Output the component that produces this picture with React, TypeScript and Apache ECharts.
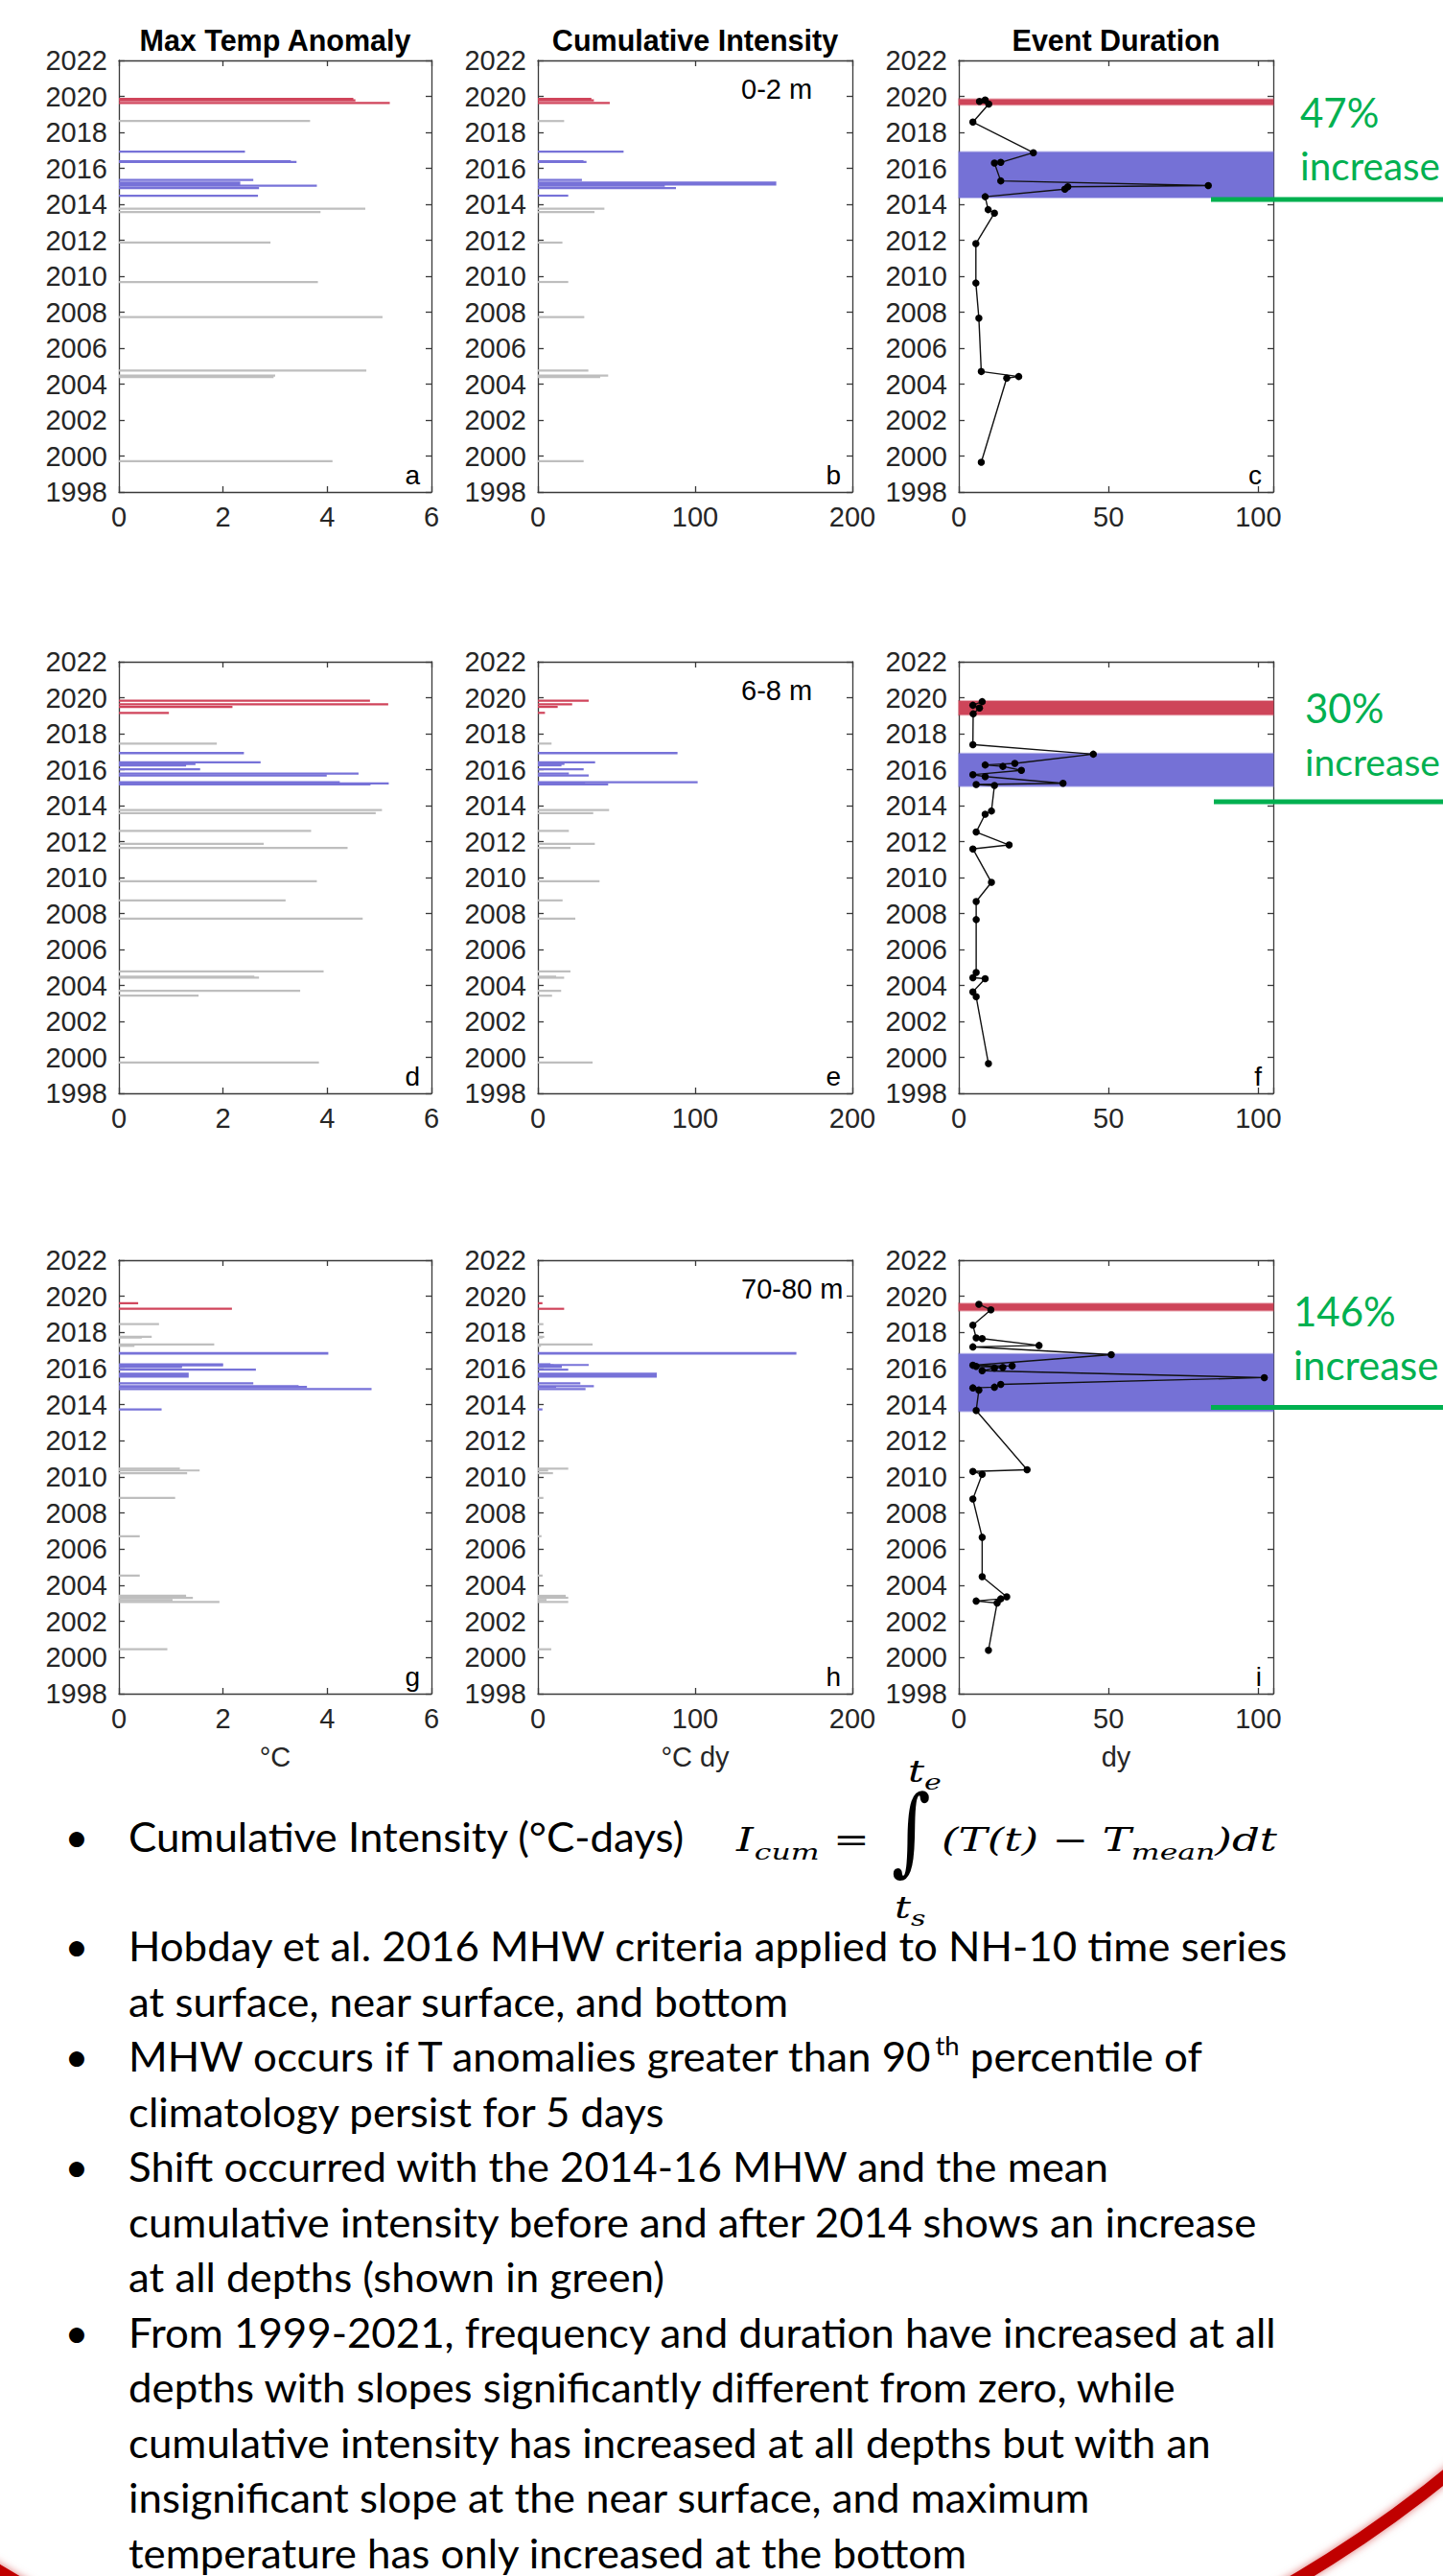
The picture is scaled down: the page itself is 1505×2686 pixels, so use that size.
import React, { useEffect, useRef } from 'react';
import * as echarts from 'echarts';

// ---------------- data ----------------
const YEAR_MIN = 1998;
const YEAR_MAX = 2022;
const YEAR_STEP = 2;

const panelTitles = ['Max Temp Anomaly', 'Cumulative Intensity', 'Event Duration'];
const depthLabels = ['0-2 m', '6-8 m', '70-80 m'];
const panelLetters = ['a', 'b', 'c', 'd', 'e', 'f', 'g', 'h', 'i'];
const axisNames = ['°C', '°C dy', 'dy'];
const xMaxes = [6, 200, 105];
const xSteps = [2, 100, 50];
const increaseLabels = ['47%', '30%', '146%'];

// 0-2 m : event start (decimal year), duration (days), max temp anomaly (°C), cumulative intensity (°C dy), group
const surfStart = [1999.65, 2004.33, 2004.42, 2004.70, 2007.67, 2009.62, 2011.81, 2013.51, 2013.70, 2014.42, 2014.84, 2014.97, 2015.04, 2015.30, 2016.29, 2016.33, 2016.87, 2018.57, 2019.57, 2019.72, 2019.80];
const surfDur = [7.5, 16.0, 20.0, 7.5, 6.7, 5.7, 5.7, 11.9, 9.8, 8.8, 35.4, 36.4, 83.3, 14.0, 11.9, 14.0, 24.9, 4.7, 10.0, 6.9, 8.8];
const surfMaxT = [4.10, 2.97, 3.00, 4.75, 5.06, 3.82, 2.91, 3.87, 4.73, 2.67, 2.69, 3.80, 2.33, 2.58, 3.41, 3.30, 2.42, 3.67, 5.20, 4.54, 4.50];
const surfCumI = [29.1, 39.6, 44.7, 32.1, 29.5, 19.3, 15.6, 36.0, 42.3, 19.3, 87.8, 80.7, 151.6, 28.0, 30.9, 29.0, 54.5, 16.7, 45.7, 35.6, 34.0];
const surfGroup = ['n', 'n', 'n', 'n', 'n', 'n', 'n', 'n', 'n', 'b', 'b', 'b', 'b', 'b', 'b', 'b', 'b', 'n', 'r', 'r', 'r'];

// 6-8 m
const nearStart = [1999.65, 2003.37, 2003.64, 2004.37, 2004.43, 2004.72, 2007.66, 2008.67, 2009.73, 2011.59, 2011.81, 2012.53, 2013.52, 2013.70, 2015.12, 2015.17, 2015.24, 2015.61, 2015.72, 2015.96, 2016.18, 2016.26, 2016.35, 2016.86, 2017.39, 2019.10, 2019.43, 2019.58, 2019.78];
const nearDur = [9.9, 5.8, 4.7, 8.8, 4.7, 5.8, 5.8, 5.8, 10.9, 4.7, 16.8, 5.8, 8.8, 10.9, 11.9, 5.8, 34.8, 8.8, 4.7, 20.9, 14.7, 8.8, 18.7, 44.9, 4.7, 4.8, 6.9, 4.7, 7.8];
const nearMaxT = [3.84, 1.53, 3.48, 2.69, 2.60, 3.93, 4.68, 3.20, 3.80, 4.39, 2.78, 3.69, 4.93, 5.05, 4.83, 5.18, 4.24, 3.99, 4.60, 1.56, 1.29, 1.47, 2.72, 2.40, 1.88, 0.96, 2.18, 5.17, 4.82];
const nearCumI = [34.8, 9.0, 14.8, 16.7, 11.6, 20.7, 23.8, 15.7, 39.2, 20.7, 36.2, 19.7, 35.2, 45.3, 44.7, 30.0, 101.6, 32.3, 19.7, 29.1, 15.0, 16.9, 36.4, 88.8, 8.7, 4.5, 12.6, 21.8, 32.3];
const nearGroup = ['n', 'n', 'n', 'n', 'n', 'n', 'n', 'n', 'n', 'n', 'n', 'n', 'n', 'n', 'b', 'b', 'b', 'b', 'b', 'b', 'b', 'b', 'b', 'b', 'n', 'r', 'r', 'r', 'r'];

// 70-80 m
const botStart = [2000.40, 2003.02, 2003.13, 2003.25, 2003.36, 2004.48, 2006.66, 2008.78, 2010.15, 2010.30, 2010.40, 2013.68, 2014.81, 2014.93, 2014.97, 2015.12, 2015.50, 2015.88, 2016.03, 2016.07, 2016.12, 2016.14, 2016.18, 2016.77, 2017.20, 2017.28, 2017.66, 2017.70, 2018.40, 2019.25, 2019.56];
const botDur = [9.9, 12.8, 5.8, 14.0, 16.0, 7.8, 7.8, 4.7, 7.8, 4.7, 22.8, 5.8, 6.7, 4.7, 11.9, 14.0, 102.0, 7.8, 11.9, 14.7, 5.8, 17.8, 4.7, 50.9, 4.7, 26.8, 7.8, 5.8, 4.7, 10.7, 6.7];
const botMaxT = [0.93, 1.93, 1.03, 1.42, 1.29, 0.40, 0.40, 1.08, 1.31, 1.55, 1.17, 0.82, 4.85, 3.61, 3.45, 2.58, 1.34, 2.63, 1.21, 1.21, 2.00, 1.21, 2.00, 4.02, 0.30, 1.83, 0.44, 0.63, 0.77, 2.17, 0.37];
const botCumI = [8.5, 19.3, 5.5, 19.3, 17.7, 3.0, 2.3, 3.5, 9.6, 6.5, 19.3, 2.9, 30.3, 11.6, 35.6, 27.0, 75.6, 19.3, 15.2, 15.2, 10.0, 32.3, 8.0, 164.4, 2.0, 34.8, 3.0, 4.0, 3.5, 16.7, 2.9];
const botGroup = ['n', 'n', 'n', 'n', 'n', 'n', 'n', 'n', 'n', 'n', 'n', 'b', 'b', 'b', 'b', 'b', 'b', 'b', 'b', 'b', 'b', 'b', 'b', 'b', 'n', 'n', 'n', 'n', 'n', 'r', 'r'];

const bulletLines = [
  { text: 'Cumulative Intensity (°C-days)', bullet: true },
  { text: 'Hobday et al. 2016 MHW criteria applied to NH-10 time series', bullet: true },
  { text: 'at surface, near surface, and bottom', bullet: false },
  { text: 'MHW occurs if T anomalies greater than 90', sup: 'th', rest: ' percentile of', bullet: true },
  { text: 'climatology persist for 5 days', bullet: false },
  { text: 'Shift occurred with the 2014-16 MHW and the mean', bullet: true },
  { text: 'cumulative intensity before and after 2014 shows an increase', bullet: false },
  { text: 'at all depths (shown in green)', bullet: false },
  { text: 'From 1999-2021, frequency and duration have increased at all', bullet: true },
  { text: 'depths with slopes significantly different from zero, while', bullet: false },
  { text: 'cumulative intensity has increased at all depths but with an', bullet: false },
  { text: 'insignificant slope at the near surface, and maximum', bullet: false },
  { text: 'temperature has only increased at the bottom', bullet: false },
];

// ---------------- layout / style ----------------
const FONT_AX = '"Liberation Sans", Arial, Helvetica, sans-serif';
const FONT_TXT = 'Lato, "Open Sans", sans-serif';
const FONT_MATH = '"DejaVu Serif", "Liberation Serif", serif';
const MATH_CSS = '"DejaVu Serif"';

const COLS = [
  { left: 124, width: 326 },
  { left: 561, width: 328 },
  { left: 1000, width: 328 },
];
const ROWS = [
  { top: 63, height: 450 },
  { top: 690, height: 450 },
  { top: 1314, height: 452 },
];
const GREEN_LAYOUT = [
  { x: 1356, pctBase: 132.6, incBase: 187.7, lineY: 208, lineX: 1263 },
  { x: 1361, pctBase: 753.6, incBase: 808.7, lineY: 836, lineX: 1266 },
  { x: 1349, pctBase: 1382.5, incBase: 1437.9, lineY: 1467.5, lineX: 1263 },
];
const BULLET_BASELINES = [1930, 2044, 2101.5, 2159, 2216.5, 2274, 2331.5, 2389, 2446.5, 2504, 2561.5, 2619, 2676.5];

const GROUP_CODE: any = { n: 0, b: 1, r: 2 };
const BAR_COLORS = ['#BEBEBE', '#7772D8', '#D0445B'];
const BAND_COLORS: any = { b: '#7571D6', r: '#CE4559' };
const BAND_EDGE: any = { b: 'rgba(117,113,214,0.45)', r: 'rgba(206,69,89,0.45)' };
const AX_COLOR = '#3a3a3a';
const TXT_COLOR = '#262626';
const GREEN = '#00B050';
const AX_FS = 29;

const depths = [
  { start: surfStart, dur: surfDur, maxT: surfMaxT, cumI: surfCumI, group: surfGroup },
  { start: nearStart, dur: nearDur, maxT: nearMaxT, cumI: nearCumI, group: nearGroup },
  { start: botStart, dur: botDur, maxT: botMaxT, cumI: botCumI, group: botGroup },
];

let measureCtx: any = null;
function textWidth(text: string, font: string) {
  if (!measureCtx) measureCtx = document.createElement('canvas').getContext('2d');
  measureCtx.font = font;
  return measureCtx.measureText(text).width;
}

function txt(text: string, x: number, y: number, o: any = {}) {
  return {
    type: 'text',
    x,
    y,
    scaleX: o.scaleX ?? 1,
    z: 50,
    silent: true,
    style: {
      text,
      fontSize: o.size ?? AX_FS,
      fontFamily: o.family ?? FONT_AX,
      fontWeight: o.weight ?? 'normal',
      fontStyle: o.fstyle ?? 'normal',
      fill: o.color ?? '#000',
      align: o.align ?? 'left',
      verticalAlign: 'middle',
    },
  };
}

function bandOf(starts: number[], groups: string[], g: string) {
  const ys = starts.filter((_, i) => groups[i] === g);
  if (!ys.length) return null;
  return [Math.min(...ys) - 0.04, Math.max(...ys) + 0.04];
}

const renderBar = (params: any, api: any) => {
  const start = api.value(0);
  const dur = api.value(1);
  const val = api.value(2);
  const code = api.value(3);
  const p0 = api.coord([0, start]);
  const p1 = api.coord([val, start + dur / 365]);
  const h = Math.max(2.2, p0[1] - p1[1]);
  return {
    type: 'rect',
    shape: { x: p0[0], y: p0[1] - h, width: p1[0] - p0[0], height: h },
    style: { fill: BAR_COLORS[code] },
  };
};

function buildOption() {
  const grid: any[] = [];
  const xAxis: any[] = [];
  const yAxis: any[] = [];
  const series: any[] = [];
  const graphic: any[] = [];
  const axLine = { color: AX_COLOR, width: 1.3 };

  for (let r = 0; r < 3; r++) {
    const d = depths[r];
    for (let c = 0; c < 3; c++) {
      const gi = r * 3 + c;
      grid.push({ left: COLS[c].left, top: ROWS[r].top, width: COLS[c].width, height: ROWS[r].height, show: false });
      ['bottom', 'top'].forEach((pos) => {
        xAxis.push({
          type: 'value',
          gridIndex: gi,
          position: pos,
          min: 0,
          max: xMaxes[c],
          interval: xSteps[c],
          axisLine: { show: true, onZero: false, lineStyle: axLine },
          axisTick: { show: true, inside: true, length: 6, lineStyle: axLine },
          axisLabel:
            pos === 'bottom'
              ? {
                  show: true,
                  fontSize: AX_FS,
                  fontFamily: FONT_AX,
                  color: TXT_COLOR,
                  margin: 11,
                  formatter: (v: number) => (v % xSteps[c] === 0 ? String(v) : ''),
                }
              : { show: false },
          splitLine: { show: false },
          name: pos === 'bottom' && r === 2 ? axisNames[c] : '',
          nameLocation: 'middle',
          nameGap: 51,
          nameTextStyle: { fontSize: AX_FS, fontFamily: FONT_AX, color: TXT_COLOR },
        });
      });
      ['left', 'right'].forEach((pos) => {
        yAxis.push({
          type: 'value',
          gridIndex: gi,
          position: pos,
          min: YEAR_MIN,
          max: YEAR_MAX,
          interval: YEAR_STEP,
          axisLine: { show: true, onZero: false, lineStyle: axLine },
          axisTick: { show: true, inside: true, length: 6, lineStyle: axLine },
          axisLabel:
            pos === 'left'
              ? { show: true, fontSize: AX_FS, fontFamily: FONT_AX, color: TXT_COLOR, margin: 12, formatter: (v: number) => String(v) }
              : { show: false },
          splitLine: { show: false },
        });
      });

      if (c < 2) {
        const vals = c === 0 ? d.maxT : d.cumI;
        const items = d.start.map((s, i) => [s, d.dur[i], vals[i], GROUP_CODE[d.group[i]]]);
        items.sort((a, b) => b[1] - a[1]);
        series.push({
          type: 'custom',
          xAxisIndex: gi * 2,
          yAxisIndex: gi * 2,
          data: items,
          encode: { x: 2, y: 0 },
          renderItem: renderBar,
          silent: true,
          clip: true,
        });
      } else {
        const pts = d.start.map((s, i) => [d.dur[i], s]).sort((a, b) => a[1] - b[1]);
        const bands: any[] = [];
        ['b', 'r'].forEach((g) => {
          const bd = bandOf(d.start, d.group, g);
          if (bd)
            bands.push([
              { yAxis: bd[0], itemStyle: { color: BAND_COLORS[g], borderColor: BAND_EDGE[g], borderWidth: 2 } },
              { yAxis: bd[1] },
            ]);
        });
        series.push({
          type: 'line',
          xAxisIndex: gi * 2,
          yAxisIndex: gi * 2,
          data: pts,
          symbol: 'circle',
          symbolSize: 7.5,
          showSymbol: true,
          itemStyle: { color: '#000' },
          lineStyle: { color: '#111', width: 1.4 },
          silent: true,
          z: 3,
          markArea: { silent: true, label: { show: false }, data: bands },
        });
      }

      // panel letter
      graphic.push(
        txt(panelLetters[gi], COLS[c].left + COLS[c].width - 12, ROWS[r].top + ROWS[r].height - 18, {
          size: 28,
          align: 'right',
          color: '#000',
        })
      );
    }
    // depth label
    graphic.push(txt(depthLabels[r], 773, ROWS[r].top + 30, { size: AX_FS, color: '#000' }));

    // green annotation
    const gl = GREEN_LAYOUT[r];
    graphic.push(txt(increaseLabels[r], gl.x, gl.pctBase - 0.36 * 42, { size: 42, family: FONT_TXT, color: GREEN }));
    const wInc = textWidth('increase', '42px Lato');
    const incSize = wInc > 0 ? Math.min(42, (42 * (1502 - gl.x)) / wInc) : 41;
    graphic.push(txt('increase', gl.x, gl.incBase - 0.36 * 42, { size: incSize, family: FONT_TXT, color: GREEN }));
    graphic.push({
      type: 'line',
      z: 40,
      silent: true,
      shape: { x1: gl.lineX, y1: gl.lineY, x2: 1510, y2: gl.lineY },
      style: { stroke: GREEN, lineWidth: 5 },
    });
  }

  // titles
  for (let c = 0; c < 3; c++) {
    graphic.push(
      txt(panelTitles[c], COLS[c].left + COLS[c].width / 2, 42, { size: 30.5, weight: 'bold', align: 'center', color: '#000' })
    );
  }

  // bullet text
  const BS = 43;
  const bodyFont = `${BS}px Lato`;
  const refW = textWidth(bulletLines[1].text, bodyFont);
  const sx = refW > 0 ? Math.min(1.15, Math.max(0.8, 1210 / refW)) : 1;
  bulletLines.forEach((ln: any, i) => {
    const base = BULLET_BASELINES[i];
    const y = base - 0.36 * BS;
    if (ln.bullet) graphic.push(txt('•', 80, y, { size: BS, family: FONT_TXT, align: 'center' }));
    graphic.push(txt(ln.text, 134, y, { size: BS, family: FONT_TXT, scaleX: sx }));
    if (ln.sup) {
      const x2 = 134 + textWidth(ln.text, bodyFont) * sx;
      graphic.push(txt(ln.sup, x2, base - 17 - 0.36 * 27, { size: 27, family: FONT_TXT, scaleX: sx }));
      const x3 = x2 + textWidth(ln.sup, `27px Lato`) * sx;
      graphic.push(txt(ln.rest, x3, y, { size: BS, family: FONT_TXT, scaleX: sx }));
    }
  });

  // formula
  const FM = 33;
  const FS = 23;
  const mainBase = 1930;
  const subBase = 1939;
  const fMain = `italic ${FM}px ${MATH_CSS}`;
  const fSub = `italic ${FS}px ${MATH_CSS}`;
  const p1 = '(T(t) − T';
  const p3 = ')dt';
  const natB = textWidth(p1, fMain) + textWidth('mean', fSub) + textWidth(p3, fMain);
  const fsx = natB > 0 ? Math.min(1.6, Math.max(0.8, 350 / natB)) : 1.2;
  const mY = mainBase - 0.35 * FM;
  const sY = subBase - 0.35 * FS;
  const mo = { size: FM, family: FONT_MATH, fstyle: 'italic', scaleX: fsx };
  const so = { size: FS, family: FONT_MATH, fstyle: 'italic', scaleX: fsx };
  graphic.push(txt('I', 768, mY, mo));
  graphic.push(txt('cum', 768 + textWidth('I', fMain) * fsx + 1, sY, so));
  graphic.push(txt('=', 869, mY, { size: FM, family: FONT_MATH, scaleX: fsx }));
  graphic.push(txt('∫', 930, 1908, { size: 100, family: FONT_MATH, scaleX: 0.78 }));
  const tf = `italic 31px ${MATH_CSS}`;
  graphic.push(txt('t', 947, 1858 - 0.35 * 31, { ...mo, size: 31 }));
  graphic.push(txt('e', 947 + textWidth('t', tf) * fsx, 1866 - 0.35 * 22, { ...so, size: 22 }));
  graphic.push(txt('t', 933, 2000 - 0.35 * 31, { ...mo, size: 31 }));
  graphic.push(txt('s', 933 + textWidth('t', tf) * fsx, 2008 - 0.35 * 22, { ...so, size: 22 }));
  let fx = 982;
  graphic.push(txt(p1, fx, mY, mo));
  fx += textWidth(p1, fMain) * fsx;
  graphic.push(txt('mean', fx, sY, so));
  fx += textWidth('mean', fSub) * fsx;
  graphic.push(txt(p3, fx, mY, mo));

  // decorative slide arc
  graphic.push({
    type: 'arc',
    z: 1,
    silent: true,
    shape: { cx: 683, cy: 1560, r: 1313, startAngle: 0.6, endAngle: 2.3, clockwise: true },
    style: { stroke: '#C00000', lineWidth: 13, fill: 'none', shadowBlur: 8, shadowColor: 'rgba(192,0,0,0.55)' },
  });

  return {
    animation: false,
    backgroundColor: '#ffffff',
    grid,
    xAxis,
    yAxis,
    series,
    graphic: { elements: graphic },
  };
}

export default function App() {
  const ref = useRef<HTMLDivElement>(null);
  useEffect(() => {
    const chart = echarts.init(ref.current as HTMLDivElement, null, { renderer: 'svg' });
    chart.setOption(buildOption() as any);
    return () => chart.dispose();
  }, []);
  return (
    <div
      ref={ref}
      style={{ position: 'absolute', left: 0, top: 0, width: 1505, height: 2686, background: '#fff' }}
    />
  );
}
